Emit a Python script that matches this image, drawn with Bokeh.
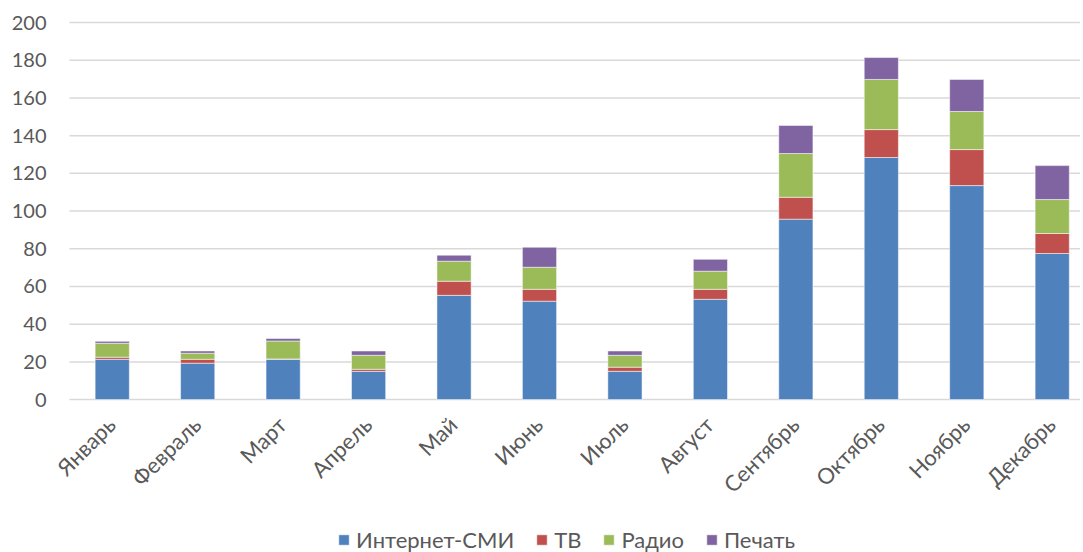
from math import pi
from bokeh.plotting import figure
from bokeh.models import Range1d, Legend, LegendItem, ColumnDataSource
from bokeh.core.properties import value
from bokeh.embed import file_html
from bokeh.resources import INLINE

months = ["Январь", "Февраль", "Март", "Апрель", "Май", "Июнь",
          "Июль", "Август", "Сентябрь", "Октябрь", "Ноябрь", "Декабрь"]
series = ["Интернет-СМИ", "ТВ", "Радио", "Печать"]
internet = [21.4, 19.3, 21.4, 15.0, 55.3, 52.2, 15.0, 53.2, 95.7, 128.4, 113.5, 77.5]
tv = [1.1, 2.1, 0.2, 1.1, 7.5, 6.3, 2.2, 5.3, 11.6, 14.8, 19.1, 10.6]
radio = [7.4, 3.2, 9.5, 7.4, 10.6, 11.7, 6.3, 9.6, 23.2, 26.6, 20.2, 18.0]
pechat = [1.0, 1.2, 1.3, 2.3, 3.2, 10.6, 2.3, 6.3, 14.9, 11.6, 17.0, 18.0]
colors = ["#4F81BD", "#C0504D", "#9BBB59", "#8064A2"]
y_ticks = [0, 20, 40, 60, 80, 100, 120, 140, 160, 180, 200]
y_tick_labels = [str(t) for t in y_ticks]

FONT = "Lato"
TXT = "#595959"

n = len(months)
xs = list(range(n))
x_lo, x_hi = -0.5, 11.331          # extent of the plotting area in category units
source = ColumnDataSource(dict(x=xs, s0=internet, s1=tv, s2=radio, s3=pechat))
label_src = ColumnDataSource(dict(x=xs, y=[0] * n, text=months))
grid_src = ColumnDataSource(dict(x0=[x_lo] * len(y_ticks), x1=[x_hi] * len(y_ticks),
                                 y=y_ticks, text=y_tick_labels))

p = figure(width=1080, height=552, output_backend="svg", toolbar_location=None,
           x_range=Range1d(-1.3075, x_hi), y_range=Range1d(-81.08, 211.67),
           x_axis_location=None, y_axis_location=None,
           min_border_left=0, min_border_right=0, min_border_top=0, min_border_bottom=0)
p.outline_line_color = None
p.background_fill_color = "white"
p.border_fill_color = "white"
p.grid.visible = False

# horizontal gridlines at the value ticks
p.segment(x0="x0", x1="x1", y0="y", y1="y", source=grid_src,
          line_color="#D9D9D9", line_width=1.5)

# value tick labels
p.text(x="x0", y="y", text="text", source=grid_src, x_offset=-23,
       text_align="right", text_baseline="middle",
       text_font=value(FONT), text_font_size="20px", text_color=TXT)

rs = p.vbar_stack(["s0", "s1", "s2", "s3"], x="x", width=0.4, source=source,
                  color=colors, line_color="white", line_alpha=0.5, line_width=1)

# category labels, rotated 45 degrees, hanging below the zero line
p.text(x="x", y="y", text="text", source=label_src, angle=pi / 4,
       x_offset=-1, y_offset=21,
       text_align="right", text_baseline="middle",
       text_font=value(FONT), text_font_size="22px", text_color=TXT)

legend = Legend(items=[LegendItem(label=s, renderers=[r]) for s, r in zip(series, rs)],
                orientation="horizontal", location=(337, -1),
                label_text_font=FONT, label_text_font_size="22px", label_text_color=TXT,
                glyph_width=13, glyph_height=13, label_standoff=6, spacing=21,
                border_line_color=None, background_fill_alpha=0, padding=0, margin=0)
p.add_layout(legend, "center")

open("out.html", "w").write(file_html(p, INLINE))
